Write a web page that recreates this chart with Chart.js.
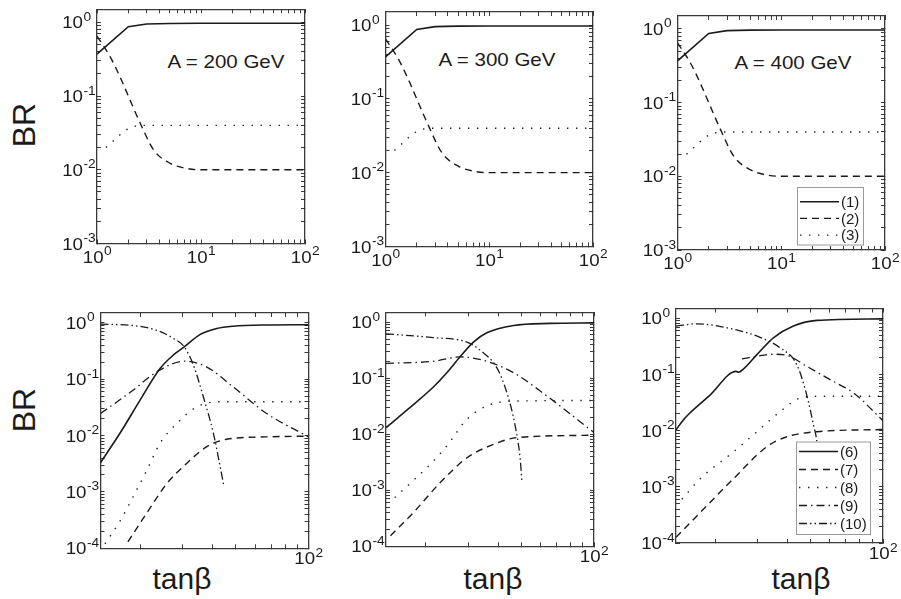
<!DOCTYPE html>
<html>
<head>
<meta charset="utf-8">
<script src="https://cdn.jsdelivr.net/npm/chart.js@4.4.1/dist/chart.umd.min.js"></script>
<style>
  body { margin: 0; width: 901px; height: 599px; position: relative; overflow: hidden; background: #fff;
         font-family: "Liberation Sans", Arial, Helvetica, sans-serif; color: #1b1b1b; }
  canvas { position: absolute; left: 0; top: 0; }
  .lbl { position: absolute; white-space: nowrap; transform: translate(-50%, -50%); }
  .mass { font-size: 19px; transform: translate(-50%, -50%) scaleX(1.08); }
  .br { font-size: 32px; transform: translate(-50%, -50%) rotate(-90deg); }
  .tanb { font-size: 30px; }
</style>
</head>
<body>
<div class="lbl mass" style="left:226px;top:62px">A = 200 GeV</div>
<div class="lbl mass" style="left:497px;top:60px">A = 300 GeV</div>
<div class="lbl mass" style="left:793px;top:63px">A = 400 GeV</div>
<div class="lbl br" style="left:24px;top:125px">BR</div>
<div class="lbl br" style="left:24px;top:410px">BR</div>
<div class="lbl tanb" style="left:182px;top:579px">tanβ</div>
<div class="lbl tanb" style="left:493px;top:579px">tanβ</div>
<div class="lbl tanb" style="left:801px;top:579px">tanβ</div>
<script>
// decades that carry a "10^n" label
const topXExp = [0, 1, 2];
const topYExp = [-3, -2, -1, 0];
const lowXExp = [2];
const lowYExp = [-4, -3, -2, -1, 0];

// upper row: modes (1)-(3), same in all three mass panels
const topTanb1 = [1, 2, 3, 5, 10, 100];
const topBr1 = [0.37, 0.87, 0.95, 0.965, 0.97, 0.97];
const topTanb2 = [1, 1.34, 1.7, 2, 2.6, 3.5, 5.07, 7.3, 10, 100];
const topBr2 = [0.65, 0.34, 0.17, 0.1, 0.043, 0.0186, 0.0122, 0.0104, 0.01, 0.01];
const topTanb3 = [1.22, 1.5, 1.87, 2.33, 3, 100];
const topBr3 = [0.02, 0.026, 0.034, 0.039, 0.04, 0.04];

// lower row, A = 200 GeV: modes (6)-(10)
const a200Tanb6 = [13.7, 16.5, 20, 24.2, 27.5, 30.5, 35.4, 41.6, 48.7, 67, 100];
const a200Br6 = [0.0033, 0.011, 0.0426, 0.155, 0.27, 0.375, 0.62, 0.795, 0.874, 0.92, 0.93];
const a200Tanb7 = [17.8, 21.3, 25.8, 31.2, 37.7, 45.7, 67, 100];
const a200Br7 = [1.3e-4, 4.2e-4, 0.0014, 0.0032, 0.0063, 0.0086, 0.0095, 0.0098];
const a200Tanb8 = [14.3, 16.7, 18.7, 21.3, 24.2, 28.4, 34.4, 43, 100];
const a200Br8 = [1.2e-4, 3.3e-4, 8.2e-4, 0.0024, 0.0073, 0.0164, 0.0324, 0.04, 0.04];
const a200Tanb9 = [13.7, 18.7, 23.4, 30.7, 37.7, 48.7, 67, 100];
const a200Br9 = [0.0247, 0.064, 0.135, 0.21, 0.166, 0.073, 0.0247, 0.0095];
const a200Tanb10 = [13.7, 18.7, 23.4, 27.5, 30.5, 33.3, 36.6, 40.3, 43, 44.6];
const a200Br10 = [0.95, 0.9, 0.74, 0.53, 0.375, 0.178, 0.049, 0.011, 0.0028, 0.00124];

// lower row, A = 300 GeV
const a300Tanb6 = [13.7, 17.2, 21.6, 24.5, 27.8, 31.6, 35.9, 46.4, 65.9, 100];
const a300Br6 = [0.0131, 0.0298, 0.0705, 0.125, 0.241, 0.44, 0.645, 0.873, 0.95, 0.97];
const a300Tanb7 = [14.3, 17.8, 23, 29.7, 38.3, 47.9, 100];
const a300Br7 = [1.55e-4, 4e-4, 0.00137, 0.0038, 0.0066, 0.0087, 0.0096];
const a300Tanb8 = [14.9, 17.8, 20.9, 24.5, 29.7, 35.9, 46.4, 100];
const a300Br8 = [7.4e-4, 0.0015, 0.0029, 0.0062, 0.0185, 0.032, 0.039, 0.04];
const a300Tanb9 = [13.7, 21.5, 27.8, 35.9, 46.4, 63.8, 100];
const a300Br9 = [0.184, 0.2, 0.24, 0.2, 0.125, 0.048, 0.0107];
const a300Tanb10 = [13.7, 21.5, 29.7, 34.2, 39.5, 43.5, 47.1, 49.4, 50.2];
const a300Br10 = [0.62, 0.53, 0.44, 0.3, 0.154, 0.055, 0.014, 0.0036, 0.00147];

// lower row, A = 400 GeV
const a400Tanb6 = [13.7, 14.5, 15.5, 19, 24.4, 25, 26, 29.8, 34.9, 42.3, 53, 100];
const a400Br6 = [0.0103, 0.0145, 0.0198, 0.043, 0.114, 0.11, 0.122, 0.226, 0.45, 0.73, 0.92, 0.98];
const a400Tanb7 = [13.7, 17.3, 23.8, 32.8, 39.7, 53, 100];
const a400Br7 = [1.26e-4, 3.5e-4, 0.0014, 0.0052, 0.0078, 0.0096, 0.0105];
const a400Tanb8 = [14.5, 17.3, 23.8, 29.8, 37.2, 45.1, 55, 100];
const a400Br8 = [6e-4, 0.0014, 0.0042, 0.0096, 0.0218, 0.038, 0.041, 0.041];
const a400Tanb9 = [25.8, 29.5, 34.9, 39.7, 48.1, 62.2, 75.4, 100];
const a400Br9 = [0.19, 0.21, 0.23, 0.22, 0.14, 0.075, 0.047, 0.015];
const a400Tanb10 = [13.7, 16.7, 23.8, 30.7, 37.2, 43.7, 48.1, 51.3, 53, 54.5];
const a400Br10 = [0.73, 0.8, 0.64, 0.46, 0.3, 0.15, 0.043, 0.0126, 0.0063, 0.0015];

const FONT = '"Liberation Sans", Arial, Helvetica, sans-serif';
const INK = '#1b1b1b';
const FRAME = '#3a3a3a';

const LINE = {
  solid: { borderDash: [], borderWidth: 1.6 },
  dash: { borderDash: [7, 5], borderWidth: 1.4 },
  dot: { borderDash: [1.4, 7.6], borderWidth: 1.4 },
  dashDot: { borderDash: [8, 4, 1.5, 4], borderWidth: 1.3 },
  dashDotDot: { borderDash: [8, 3, 1.5, 3, 1.5, 3], borderWidth: 1.3 },
};

function points(xs, ys) {
  return xs.map((x, i) => ({ x, y: ys[i] }));
}

function series(label, xs, ys, style, smooth) {
  return Object.assign({
    label, data: points(xs, ys), borderColor: INK, pointRadius: 0, fill: false,
    tension: 0, cubicInterpolationMode: smooth ? 'monotone' : 'default',
    borderCapStyle: 'butt',
  }, LINE[style]);
}

// every n*10^k between min and max, used as tick marks
function logTicks(min, max) {
  const out = [];
  for (let e = Math.floor(Math.log10(min)); e <= Math.ceil(Math.log10(max)); e++) {
    for (let n = 1; n < 10; n++) {
      const v = n * Math.pow(10, e);
      if (v >= min * 0.999 && v <= max * 1.001) out.push(v);
    }
  }
  return out;
}

// log axis that draws only its border and inward tick marks, taking no room
function frame(axis, position, min, max) {
  const ticks = logTicks(min, max);
  return {
    type: 'logarithmic', axis, position, min, max,
    afterBuildTicks: s => { s.ticks = ticks.map(v => ({ value: v })); },
    afterFit: s => { if (axis === 'x') s.height = 0; else s.width = 0; },
    ticks: { display: false },
    grid: { drawOnChartArea: false, drawTicks: true, tickLength: -4, tickColor: FRAME, tickWidth: 1 },
    border: { display: true, color: FRAME, width: 1.3 },
  };
}

function drawPower(ctx, e, x, base, align) {
  const sx = 1.1;
  const exp = String(e);
  ctx.font = '17px ' + FONT;
  const w10 = ctx.measureText('10').width * sx;
  ctx.font = '12.5px ' + FONT;
  const wExp = ctx.measureText(exp).width * sx;
  const left = align === 'center' ? x - (w10 + wExp) / 2 : x - w10;
  ctx.save();
  ctx.translate(left, base);
  ctx.scale(sx, 1);
  ctx.font = '17px ' + FONT;
  ctx.fillText('10', 0, 0);
  ctx.restore();
  ctx.save();
  ctx.translate(left + w10 + 0.5, base - 7.5);
  ctx.scale(sx, 1);
  ctx.font = '12.5px ' + FONT;
  ctx.fillText(exp, 0, 0);
  ctx.restore();
}

const powerLabels = {
  id: 'powerLabels',
  afterDraw(chart, args, opts) {
    const ctx = chart.ctx;
    const xs = chart.scales.x, ys = chart.scales.y;
    ctx.save();
    ctx.fillStyle = INK;
    ctx.textAlign = 'left';
    ctx.textBaseline = 'alphabetic';
    opts.xExp.forEach(e => drawPower(ctx, e, xs.getPixelForValue(Math.pow(10, e)), xs.top + opts.xGap, 'center'));
    opts.yExp.forEach(e => drawPower(ctx, e, ys.left - 14, ys.getPixelForValue(Math.pow(10, e)) + 6, 'right'));
    ctx.restore();
  }
};

const boxLegend = {
  id: 'boxLegend',
  afterDatasetsDraw(chart, args, opts) {
    if (!opts.box) return;
    const ctx = chart.ctx;
    const [l, t, r, b] = opts.box;
    ctx.save();
    ctx.fillStyle = '#fff';
    ctx.fillRect(l, t, r - l, b - t);
    ctx.strokeStyle = '#9a9a9a';
    ctx.lineWidth = 1;
    ctx.strokeRect(l + 0.5, t + 0.5, r - l, b - t);
    ctx.font = '15px ' + FONT;
    ctx.textBaseline = 'middle';
    chart.data.datasets.forEach((ds, i) => {
      const y = t + opts.first + i * opts.step;
      ctx.setLineDash(ds.borderDash);
      ctx.lineWidth = ds.borderWidth;
      ctx.strokeStyle = ds.borderColor;
      ctx.beginPath();
      ctx.moveTo(l + 3, y);
      ctx.lineTo(l + 42, y);
      ctx.stroke();
      ctx.setLineDash([]);
      ctx.fillStyle = INK;
      ctx.fillText(ds.label, l + 44, y + 1);
    });
    ctx.restore();
  }
};

function topSet() {
  return [
    series('(1)', topTanb1, topBr1, 'solid', false),
    series('(2)', topTanb2, topBr2, 'dash', true),
    series('(3)', topTanb3, topBr3, 'dot', true),
  ];
}

function lowSet(t6, b6, t7, b7, t8, b8, t9, b9, t10, b10) {
  return [
    series('(6)', t6, b6, 'solid', true),
    series('(7)', t7, b7, 'dash', true),
    series('(8)', t8, b8, 'dot', true),
    series('(9)', t9, b9, 'dashDot', true),
    series('(10)', t10, b10, 'dashDotDot', true),
  ];
}

const panels = [
  { area: [97, 9.3, 305, 243.5], xMin: 1, yMin: 1e-3, xExp: topXExp, yExp: topYExp, xGap: 19, datasets: topSet() },
  { area: [385.5, 12, 593, 246.5], xMin: 1, yMin: 1e-3, xExp: topXExp, yExp: topYExp, xGap: 19, datasets: topSet() },
  { area: [677.5, 16, 885, 250], xMin: 1, yMin: 1e-3, xExp: topXExp, yExp: topYExp, xGap: 19, datasets: topSet(),
    legend: { box: [797, 187, 863, 244.5], first: 14.7, step: 16.7 } },
  { area: [100.5, 313, 308.5, 548.3], xMin: 13.7, yMin: 1e-4, xExp: lowXExp, yExp: lowYExp, xGap: 16,
    datasets: lowSet(a200Tanb6, a200Br6, a200Tanb7, a200Br7, a200Tanb8, a200Br8, a200Tanb9, a200Br9, a200Tanb10, a200Br10) },
  { area: [386, 312.3, 594, 546.3], xMin: 13.7, yMin: 1e-4, xExp: lowXExp, yExp: lowYExp, xGap: 16,
    datasets: lowSet(a300Tanb6, a300Br6, a300Tanb7, a300Br7, a300Tanb8, a300Br8, a300Tanb9, a300Br9, a300Tanb10, a300Br10) },
  { area: [676, 308.5, 883, 543], xMin: 13.7, yMin: 1e-4, xExp: lowXExp, yExp: lowYExp, xGap: 16,
    datasets: lowSet(a400Tanb6, a400Br6, a400Tanb7, a400Br7, a400Tanb8, a400Br8, a400Tanb9, a400Br9, a400Tanb10, a400Br10),
    legend: { box: [796, 441.5, 870, 534], first: 10, step: 18 } },
];

panels.forEach(p => {
  const cv = document.createElement('canvas');
  cv.width = 901;
  cv.height = 599;
  document.body.appendChild(cv);
  const [l, t, r, b] = p.area;
  new Chart(cv, {
    type: 'line',
    data: { datasets: p.datasets },
    options: {
      responsive: false,
      animation: false,
      devicePixelRatio: 1,
      events: [],
      layout: { padding: { left: l, top: t, right: 901 - r, bottom: 599 - b } },
      plugins: {
        legend: { display: false },
        tooltip: { enabled: false },
        powerLabels: { xExp: p.xExp, yExp: p.yExp, xGap: p.xGap },
        boxLegend: p.legend || {},
      },
      scales: {
        x: frame('x', 'bottom', p.xMin, 100),
        x2: frame('x', 'top', p.xMin, 100),
        y: frame('y', 'left', p.yMin, 1.5),
        y2: frame('y', 'right', p.yMin, 1.5),
      },
    },
    plugins: [powerLabels, boxLegend],
  });
});
</script>
</body>
</html>
